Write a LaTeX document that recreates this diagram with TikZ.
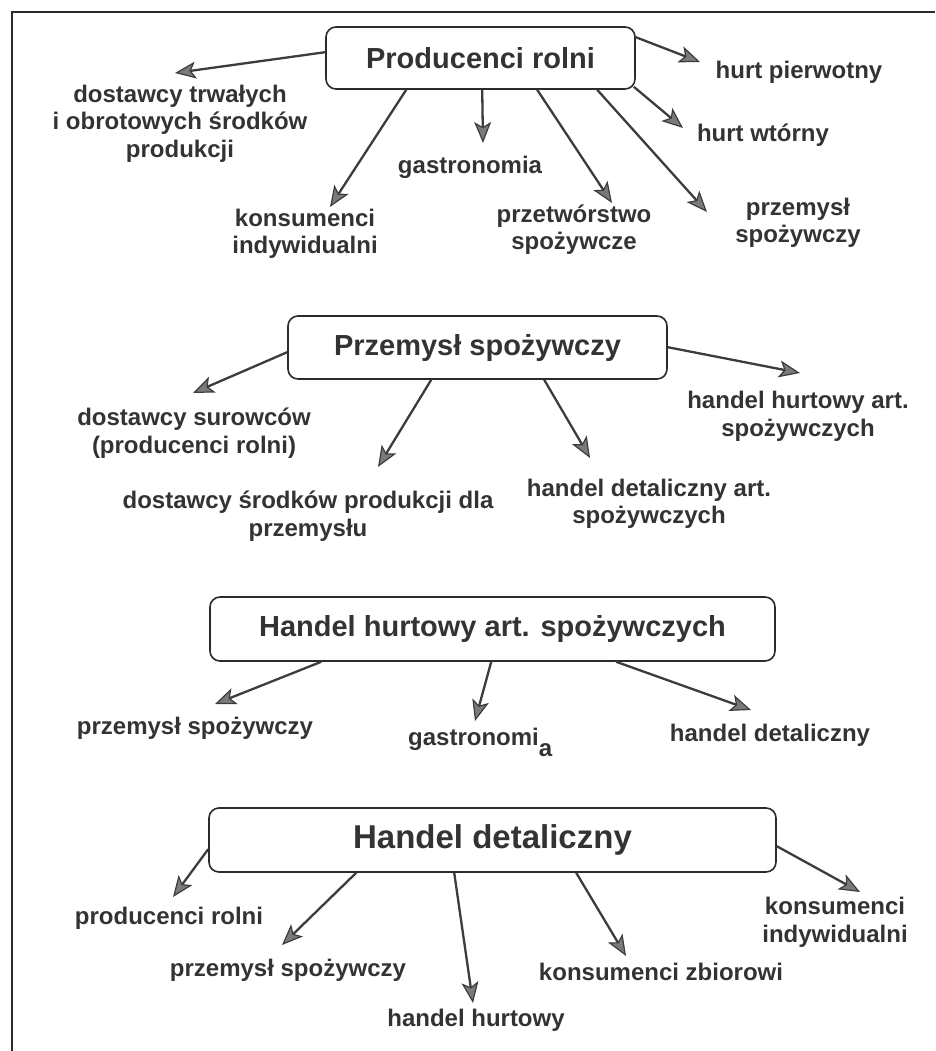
\documentclass[tikz,border=0pt]{standalone}
\usepackage{fontspec}
\setmainfont{Liberation Sans}
\usetikzlibrary{arrows.meta}
\definecolor{txt}{HTML}{333333}
\definecolor{edge}{HTML}{2B2B2B}
\definecolor{arr}{HTML}{3C3C3C}
\definecolor{headfill}{HTML}{7A7A7A}
\tikzset{
 titlebox/.style={draw=edge, line width=1.6pt, rounded corners=10pt, text=txt, font=\bfseries\fontsize{29}{33}\selectfont, inner sep=0pt},
 lbl/.style={text=txt, font=\bfseries\fontsize{24}{27.5}\selectfont, align=center, inner sep=0pt},
 conn/.style={draw=arr, line width=2.3pt, -{Stealth[length=21pt,width=17pt,inset=5pt,line width=1.2pt,fill=headfill]}},
}
\begin{document}
\begin{tikzpicture}[x=1pt,y=-1pt]
\useasboundingbox (0,0) rectangle (935,1051);
\draw[edge, line width=1.5pt] (12,1051) -- (12,12) -- (935,12);

% ---------- Section 1
\node[titlebox, minimum width=309pt, minimum height=62pt] (b1) at (480.5,58) {Producenci rolni};
\node[lbl] (l11) at (180,123.5) {dostawcy trwałych\\i obrotowych środków\\produkcji};
\node[lbl] (l12) at (305,234) {konsumenci\\indywidualni};
\node[lbl] (l13) at (470,167) {gastronomia};
\node[lbl] (l14) at (574,229.5) {przetwórstwo\\spożywcze};
\node[lbl] (l15) at (798,223) {przemysł\\spożywczy};
\node[lbl] (l16) at (763,135) {hurt wtórny};
\node[lbl] (l17) at (799,72) {hurt pierwotny};
\coordinate (t11) at (175,73);
\coordinate (t12) at (330,207);
\coordinate (t13) at (483,143);
\coordinate (t14) at (612,203);
\coordinate (t15) at (707,212);
\coordinate (t16) at (683,128);
\coordinate (t17) at (700,62);
\draw[conn] ([yshift=-26pt]b1.north west) -- (t11);
\draw[conn] ([xshift=81pt]b1.south west) -- (t12);
\draw[conn] ([xshift=157pt]b1.south west) -- (t13);
\draw[conn] ([xshift=212pt]b1.south west) -- (t14);
\draw[conn] ([xshift=272pt]b1.south west) -- (t15);
\draw[conn] ([xshift=-2pt,yshift=3pt]b1.south east) -- (t16);
\draw[conn] ([yshift=-11pt]b1.north east) -- (t17);

% ---------- Section 2
\node[titlebox, minimum width=379pt, minimum height=63pt] (b2) at (477.5,347.5) {Przemysł spożywczy};
\node[lbl] (l21) at (194,433) {dostawcy surowców\\(producenci rolni)};
\node[lbl] (l22) at (308,516) {dostawcy środków produkcji dla\\przemysłu};
\node[lbl] (l23) at (649,504) {handel detaliczny art.\\spożywczych};
\node[lbl] (l24) at (798,416.5) {handel hurtowy art.\\spożywczych};
\coordinate (t21) at (193,393);
\coordinate (t22) at (378,467);
\coordinate (t23) at (590,458);
\coordinate (t24) at (800,373);
\draw[conn] ([yshift=-37pt]b2.north west) -- (t21);
\draw[conn] ([xshift=144pt]b2.south west) -- (t22);
\draw[conn] ([xshift=257pt]b2.south west) -- (t23);
\draw[conn] ([yshift=-32pt]b2.north east) -- (t24);

% ---------- Section 3
\node[titlebox, minimum width=565pt, minimum height=64pt] (b3) at (492.5,629) {Handel hurtowy art. spożywczych};
\node[lbl] (l31) at (195,728) {przemysł spożywczy};
\node[lbl, anchor=base west] (l32) at (408,745) {gastronomi\raisebox{-11pt}{a}};
\node[lbl] (l33) at (770,735) {handel detaliczny};
\coordinate (t31) at (215,704);
\coordinate (t32) at (475,721);
\coordinate (t33) at (751,710);
\draw[conn] ([xshift=112pt]b3.south west) -- (t31);
\draw[conn] ([xshift=282pt]b3.south west) -- (t32);
\draw[conn] ([xshift=407pt]b3.south west) -- (t33);

% ---------- Section 4
\node[titlebox, minimum width=567pt, minimum height=64pt, font=\bfseries\fontsize{33}{37}\selectfont] (b4) at (492.5,840) {Handel detaliczny};
\node[lbl] (l41) at (169,918) {producenci rolni};
\node[lbl] (l42) at (288,970) {przemysł spożywczy};
\node[lbl] (l43) at (476,1020) {handel hurtowy};
\node[lbl] (l44) at (661,972) {konsumenci zbiorowi};
\node[lbl] (l45) at (835,922.5) {konsumenci\\indywidualni};
\coordinate (t41) at (173,897);
\coordinate (t42) at (282,945);
\coordinate (t43) at (473,1003);
\coordinate (t44) at (626,956);
\coordinate (t45) at (860,892);
\draw[conn] ([yshift=-42pt]b4.north west) -- (t41);
\draw[conn] ([xshift=148pt]b4.south west) -- (t42);
\draw[conn] ([xshift=246pt]b4.south west) -- (t43);
\draw[conn] ([xshift=368pt]b4.south west) -- (t44);
\draw[conn] ([yshift=-39pt]b4.north east) -- (t45);
\end{tikzpicture}
\end{document}
